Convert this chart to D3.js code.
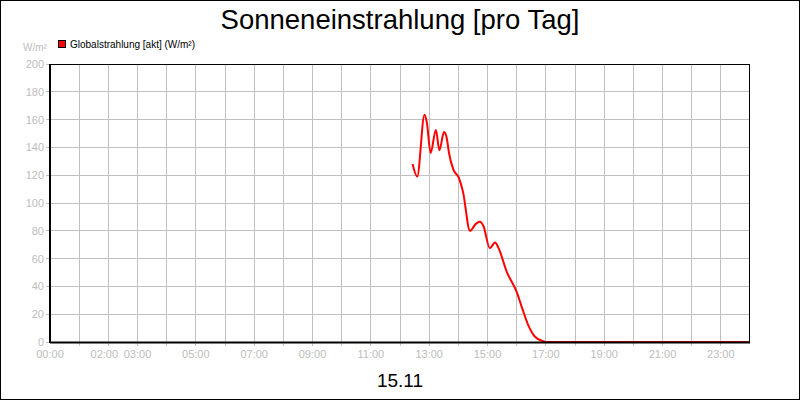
<!DOCTYPE html>
<html lang="de">
<head>
<meta charset="UTF-8">
<title>Sonneneinstrahlung</title>
<script src="https://d3js.org/d3.v7.min.js"></script>
<style>
  body { margin: 0; background: #fff; }
  text { font-family: "Liberation Sans", Arial, sans-serif; }
</style>
</head>
<body>
<script>
// Daten: Stunde des Tages und Globalstrahlung in W/m²
var stunden = [12.43, 12.59, 12.84, 12.92, 13.05, 13.23, 13.35, 13.51, 13.6, 13.68, 13.83, 14.02, 14.16, 14.4,
               14.6, 14.74, 14.86, 15.08, 15.26, 15.37, 15.66, 16.0, 16.17, 16.4, 16.63, 16.91, 17.0, 18, 20, 22, 24];
var strahlung = [128, 119, 163.5, 158, 136, 152.5, 138, 151, 147, 136, 124, 118, 108, 80,
                 85, 86.5, 83.5, 67.5, 71.5, 68, 50.5, 36, 25.5, 12, 3.8, 0.5, 0, 0, 0, 0, 0];

var xTickStunden = [0, 2, 3, 5, 7, 9, 11, 13, 15, 17, 19, 21, 23];
var xTickTexte = ["00:00", "02:00", "03:00", "05:00", "07:00", "09:00", "11:00",
                  "13:00", "15:00", "17:00", "19:00", "21:00", "23:00"];
var yTicks = [0, 20, 40, 60, 80, 100, 120, 140, 160, 180, 200];

var titel = "Sonneneinstrahlung [pro Tag]";
var legende = "Globalstrahlung [akt] (W/m²)";
var einheit = "W/m²";
var datum = "15.11";

var breite = 800, hoehe = 400;
var links = 50, rechts = 750, oben = 64, unten = 342;

var svg = d3.select("body").append("svg")
    .attr("width", breite).attr("height", hoehe);

// Rahmen um das ganze Bild
svg.append("rect")
    .attr("x", 0.5).attr("y", 0.5)
    .attr("width", breite - 1).attr("height", hoehe - 1)
    .attr("fill", "#fff").attr("stroke", "#000");

var x = d3.scaleLinear().domain([0, 24]).range([links, rechts]);
var y = d3.scaleLinear().domain([0, 200]).range([unten, oben]);

// Gitter
svg.append("g").selectAll("line").data(d3.range(1, 24)).enter().append("line")
    .attr("x1", function (d) { return x(d); }).attr("x2", function (d) { return x(d); })
    .attr("y1", oben).attr("y2", unten + 4)
    .attr("stroke", "#c0c0c0").attr("shape-rendering", "crispEdges");
svg.append("g").selectAll("line").data(yTicks.slice(1)).enter().append("line")
    .attr("x1", links - 4).attr("x2", rechts)
    .attr("y1", function (d) { return y(d); }).attr("y2", function (d) { return y(d); })
    .attr("stroke", "#c0c0c0").attr("shape-rendering", "crispEdges");

// Achsenbeschriftung Y
svg.append("g").selectAll("text").data(yTicks).enter().append("text")
    .attr("x", links - 6).attr("y", function (d) { return y(d) + 4; })
    .attr("text-anchor", "end").attr("font-size", "11px").attr("fill", "#bdbdbd")
    .text(function (d) { return d; });
svg.append("line").attr("x1", links - 4).attr("x2", links)
    .attr("y1", unten + 0.5).attr("y2", unten + 0.5).attr("stroke", "#c0c0c0");

// Achsenbeschriftung X
svg.append("g").selectAll("text").data(xTickStunden).enter().append("text")
    .attr("x", function (d, i) { return x(d) + (xTickTexte[i] === "02:00" ? -4 : 0); })
    .attr("y", 358)
    .attr("text-anchor", "middle").attr("font-size", "11px").attr("fill", "#bdbdbd")
    .text(function (d, i) { return xTickTexte[i]; });

// Kurve
var linie = d3.line()
    .x(function (d) { return x(d); })
    .y(function (d, i) { return y(strahlung[i]); })
    .curve(d3.curveMonotoneX);
svg.append("path").datum(stunden)
    .attr("d", linie)
    .attr("fill", "none").attr("stroke", "#ff0000").attr("stroke-width", 2)
    .attr("stroke-linejoin", "round");

// Plotrahmen
svg.append("rect")
    .attr("x", links + 0.5).attr("y", oben + 0.5)
    .attr("width", rechts - links - 1).attr("height", unten - oben)
    .attr("fill", "none").attr("stroke", "#000");
svg.append("line").attr("x1", links).attr("x2", rechts)
    .attr("y1", unten + 0.5).attr("y2", unten + 0.5)
    .attr("stroke", "#000").attr("stroke-width", 2);
svg.append("line").attr("x1", links).attr("x2", links)
    .attr("y1", oben).attr("y2", unten + 1)
    .attr("stroke", "#000").attr("stroke-width", 2);

// Titel, Legende, Einheit, Datum
svg.append("text").attr("x", 400).attr("y", 29)
    .attr("text-anchor", "middle").attr("font-size", "27.5px").attr("fill", "#000")
    .text(titel);
svg.append("rect").attr("x", 58.5).attr("y", 40.5).attr("width", 7).attr("height", 7)
    .attr("fill", "#ff0000").attr("stroke", "#000");
svg.append("text").attr("x", 70).attr("y", 48)
    .attr("font-size", "10px").attr("fill", "#000").text(legende);
svg.append("text").attr("x", 23).attr("y", 51)
    .attr("font-size", "10px").attr("fill", "#bdbdbd").text(einheit);
svg.append("text").attr("x", 400).attr("y", 387)
    .attr("text-anchor", "middle").attr("font-size", "19px").attr("fill", "#000")
    .text(datum);
</script>
</body>
</html>
